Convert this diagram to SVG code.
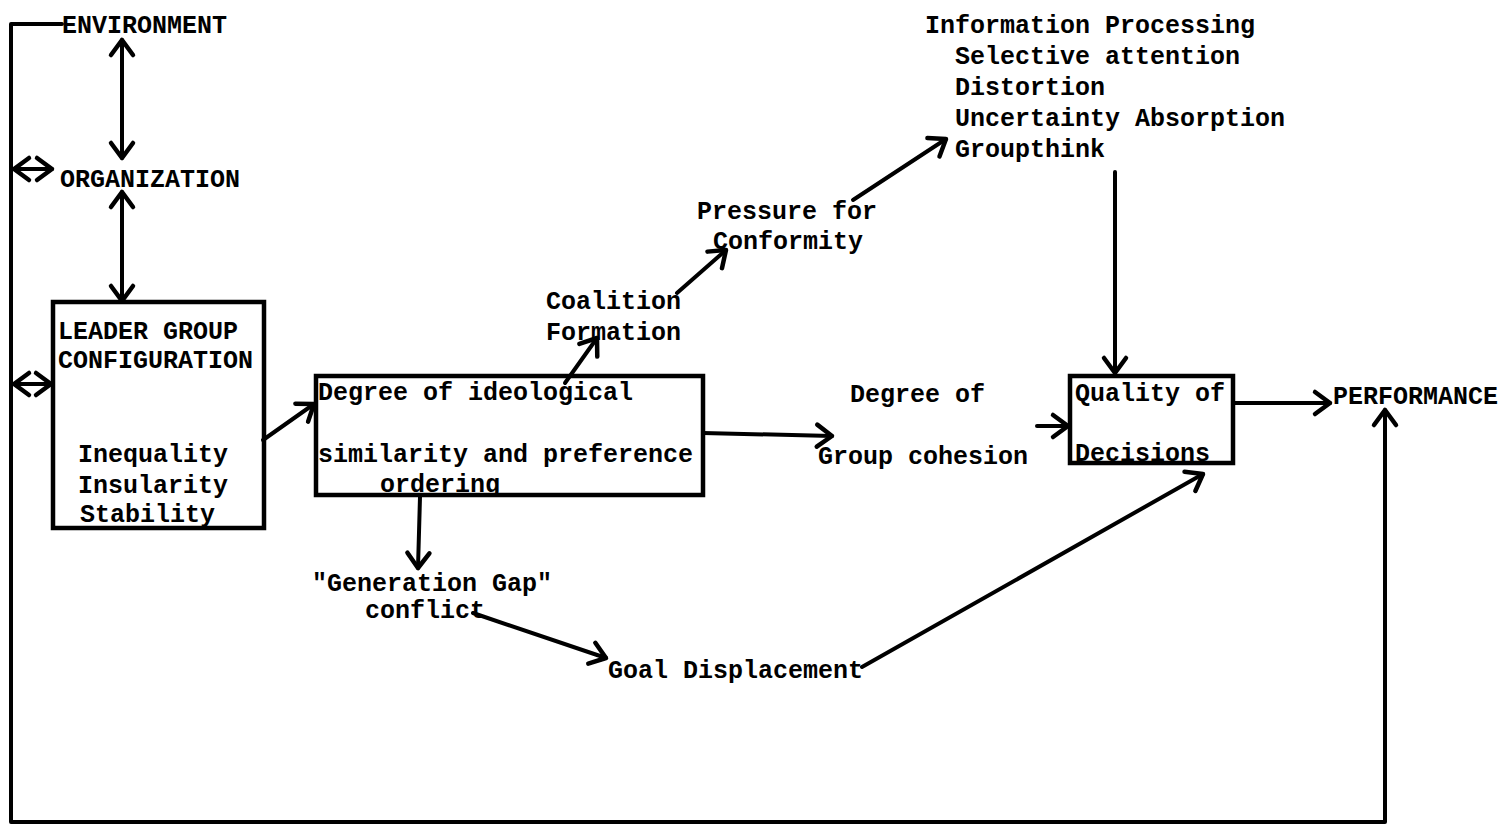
<svg xmlns="http://www.w3.org/2000/svg" width="1505" height="826" viewBox="0 0 1505 826">
<defs>
<marker id="arr" markerUnits="userSpaceOnUse" markerWidth="34" markerHeight="34" viewBox="-22 -17 27 34" refX="0" refY="0" orient="auto-start-reverse">
<path d="M -15 -11 L 0 0 L -15 11" fill="none" stroke="#000" stroke-width="4.5" stroke-linecap="round" stroke-linejoin="round"/>
</marker>
</defs>
<style>
text{font-family:"Liberation Mono","DejaVu Sans Mono",monospace;font-size:25px;font-weight:bold;fill:#000}
.b{stroke:#000;stroke-width:4.5;fill:none}
.c{stroke:#000;stroke-width:4;fill:none;stroke-linecap:round;stroke-linejoin:round}
.e{marker-end:url(#arr)}
.s{marker-start:url(#arr)}
</style>
<rect width="1505" height="826" fill="#fff"/>
<g id="connectors">
<path class="c e" d="M 62 24 H 11 V 822 H 1385 V 410"/>
<path class="c s e" d="M 122 40 V 158"/>
<path class="c s e" d="M 122 192 V 301"/>
<path class="c s e" d="M 14 169 H 52"/>
<path class="c s e" d="M 14 384 H 51"/>
<path class="c e" d="M 263 440 L 314 404"/>
<path class="c e" d="M 565 383 L 597 338"/>
<path class="c e" d="M 677 293 L 726 250"/>
<path class="c e" d="M 853 200 L 946 139"/>
<path class="c e" d="M 1115 172 V 373"/>
<path class="c e" d="M 703 433 L 832 436"/>
<path class="c e" d="M 1037 426 H 1068"/>
<path class="c e" d="M 1233 403 H 1330"/>
<path class="c e" d="M 420 497 L 418 568"/>
<path class="c e" d="M 473 613 L 606 658"/>
<path class="c e" d="M 862 667 L 1203 474"/>
</g>
<g id="environment"><text x="62" y="33">ENVIRONMENT</text></g>
<g id="organization"><text x="60" y="187">ORGANIZATION</text></g>
<g id="leader-group">
<rect class="b" x="53" y="302" width="211" height="226"/>
<text x="58" y="339">LEADER GROUP</text>
<text x="58" y="368">CONFIGURATION</text>
<text x="78" y="462">Inequality</text>
<text x="78" y="493">Insularity</text>
<text x="80" y="522">Stability</text>
</g>
<g id="ideological">
<rect class="b" x="316" y="376" width="387" height="119"/>
<text x="318" y="400">Degree of ideological</text>
<text x="318" y="462">similarity and preference</text>
<text x="380" y="492">ordering</text>
</g>
<g id="coalition">
<text x="546" y="309">Coalition</text>
<text x="546" y="340">Formation</text>
</g>
<g id="pressure">
<text x="697" y="219">Pressure for</text>
<text x="713" y="249">Conformity</text>
</g>
<g id="information">
<text x="925" y="33">Information Processing</text>
<text x="955" y="64">Selective attention</text>
<text x="955" y="95">Distortion</text>
<text x="955" y="126">Uncertainty Absorption</text>
<text x="955" y="157">Groupthink</text>
</g>
<g id="cohesion">
<text x="850" y="402">Degree of</text>
<text x="818" y="464">Group cohesion</text>
</g>
<g id="quality">
<rect class="b" x="1070" y="376" width="163" height="87"/>
<text x="1075" y="401">Quality of</text>
<text x="1075" y="461">Decisions</text>
</g>
<g id="performance"><text x="1333" y="404">PERFORMANCE</text></g>
<g id="generation">
<text x="312" y="591">"Generation Gap"</text>
<text x="365" y="618">conflict</text>
</g>
<g id="goal"><text x="608" y="678">Goal Displacement</text></g>
</svg>
